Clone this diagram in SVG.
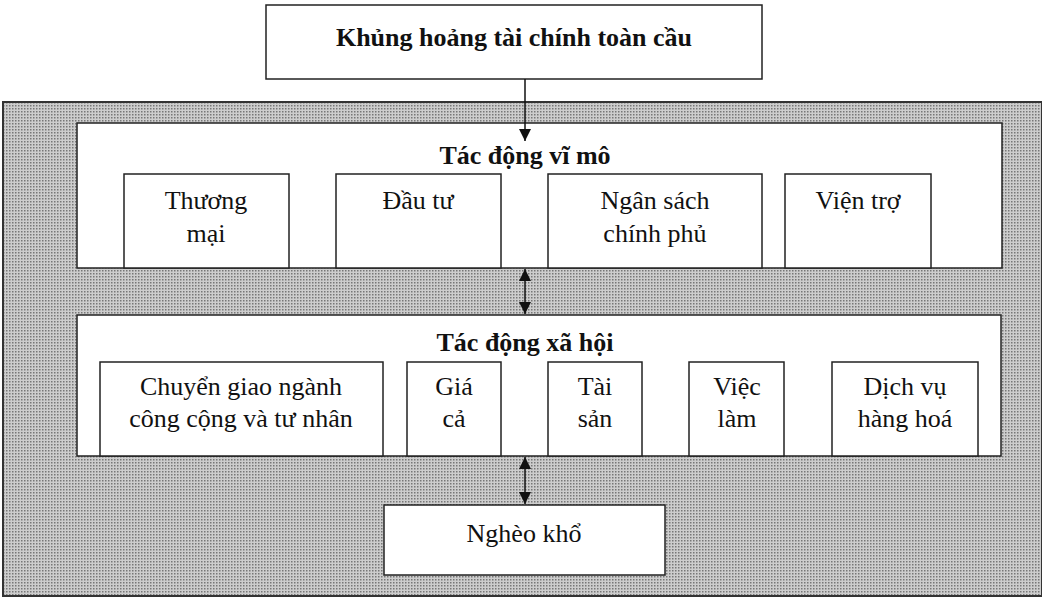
<svg xmlns="http://www.w3.org/2000/svg" width="1042" height="598" viewBox="0 0 1042 598">
<defs>
<pattern id="dots" width="3" height="3" patternUnits="userSpaceOnUse">
<rect width="3" height="3" fill="#cdcdcd"/>
<rect x="0" y="0" width="1.5" height="1.5" fill="#777"/>
</pattern>
<marker id="ahb" viewBox="0 0 10 10" refX="10" refY="5" markerWidth="16" markerHeight="12" orient="auto-start-reverse" markerUnits="userSpaceOnUse">
<path d="M0,0 L10,5 L0,10 z" fill="#111"/>
</marker>
</defs>
<style>
.box{fill:#fff;stroke:#222;stroke-width:1.5}
.t{font-family:"Liberation Serif","DejaVu Serif",serif;font-size:26px;fill:#111;text-anchor:middle}
.b{font-weight:bold;font-size:26px}
.c{stroke:#111;stroke-width:1.5;fill:none}
</style>
<rect id="bg" x="3" y="102" width="1039" height="494" fill="url(#dots)" stroke="#333" stroke-width="2"/>
<g id="n-crisis"><rect class="box" x="266" y="5" width="496" height="74"/><text class="t b" x="514" y="46">Khủng hoảng tài chính toàn cầu</text></g>
<g id="n-macro"><rect class="box" x="77" y="123" width="925" height="145"/><text class="t b" x="525" y="164">Tác động vĩ mô</text></g>
<g id="n-trade"><rect class="box" x="124" y="174" width="165" height="94"/><text class="t" x="206" y="209">Thương</text><text class="t" x="206" y="242">mại</text></g>
<g id="n-invest"><rect class="box" x="336" y="174" width="165" height="94"/><text class="t" x="418" y="209">Đầu tư</text></g>
<g id="n-budget"><rect class="box" x="548" y="174" width="214" height="94"/><text class="t" x="655" y="209">Ngân sách</text><text class="t" x="655" y="242">chính phủ</text></g>
<g id="n-aid"><rect class="box" x="785" y="174" width="146" height="94"/><text class="t" x="858" y="209">Viện trợ</text></g>
<g id="n-social"><rect class="box" x="77" y="315" width="924" height="141"/><text class="t b" x="525" y="351">Tác động xã hội</text></g>
<g id="n-transfer"><rect class="box" x="100" y="362" width="283" height="94"/><text class="t" x="241" y="395">Chuyển giao ngành</text><text class="t" x="241" y="427">công cộng và tư nhân</text></g>
<g id="n-price"><rect class="box" x="407" y="362" width="94" height="94"/><text class="t" x="454" y="395">Giá</text><text class="t" x="454" y="427">cả</text></g>
<g id="n-asset"><rect class="box" x="548" y="362" width="94" height="94"/><text class="t" x="595" y="395">Tài</text><text class="t" x="595" y="427">sản</text></g>
<g id="n-job"><rect class="box" x="689" y="362" width="95" height="94"/><text class="t" x="737" y="395">Việc</text><text class="t" x="737" y="427">làm</text></g>
<g id="n-goods"><rect class="box" x="832" y="362" width="146" height="94"/><text class="t" x="905" y="395">Dịch vụ</text><text class="t" x="905" y="427">hàng hoá</text></g>
<g id="n-poverty"><rect class="box" x="384" y="505" width="281" height="70"/><text class="t" x="524" y="542">Nghèo khổ</text></g>
<g id="connectors">
<line class="c" x1="525" y1="79" x2="525" y2="141" marker-end="url(#ahb)"/>
<line class="c" x1="525" y1="269" x2="525" y2="314" marker-start="url(#ahb)" marker-end="url(#ahb)"/>
<line class="c" x1="525" y1="457" x2="525" y2="504" marker-start="url(#ahb)" marker-end="url(#ahb)"/>
</g>
</svg>
